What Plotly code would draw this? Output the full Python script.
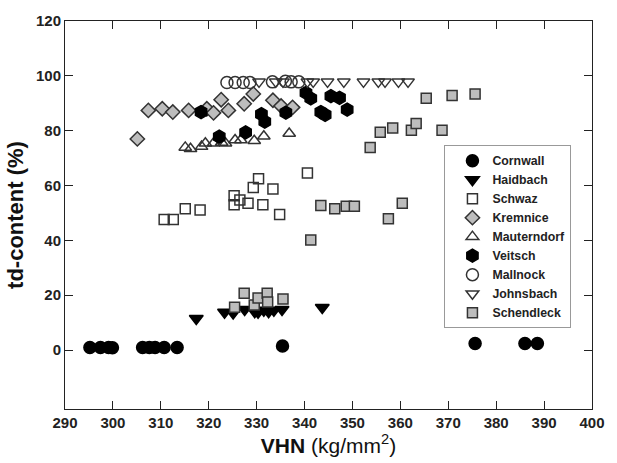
import plotly.graph_objects as go

cornwall_x = [295.2, 297.4, 299.1, 299.9, 306.2, 307.6, 308.8, 310.7, 313.4, 335.4, 375.6, 386.0, 388.6]
cornwall_y = [0.9, 0.9, 0.9, 0.8, 0.9, 0.9, 0.9, 0.9, 0.9, 1.5, 2.4, 2.4, 2.4]

haidbach_x = [317.4, 323.3, 325.1, 327.5, 329.6, 330.3, 331.5, 332.5, 333.6, 335.3, 343.7]
haidbach_y = [11.5, 13.8, 13.5, 14.8, 14.0, 13.8, 14.5, 14.0, 14.5, 14.8, 15.5]

schwaz_x = [310.7, 312.6, 315.1, 318.2, 325.3, 325.3, 326.5, 328.2, 329.3, 330.4, 331.3, 333.4, 334.8, 340.6]
schwaz_y = [47.6, 47.6, 51.5, 51.1, 56.3, 53.0, 54.7, 53.5, 59.3, 62.5, 53.0, 58.7, 49.4, 64.6]

kremnice_x = [305.1, 307.4, 310.3, 312.5, 315.8, 319.6, 321.0, 322.6, 324.1, 327.4, 329.3, 333.4, 335.1, 337.5]
kremnice_y = [77.0, 87.4, 88.0, 86.8, 87.4, 88.0, 86.5, 91.3, 87.4, 89.8, 93.4, 91.1, 89.0, 88.5]

mauterndorf_x = [315.1, 316.2, 318.5, 319.3, 321.0, 322.7, 323.5, 325.5, 326.7, 329.5, 331.5, 336.8]
mauterndorf_y = [73.9, 73.4, 74.2, 75.4, 75.4, 75.7, 75.4, 76.6, 76.6, 76.3, 78.0, 79.0]

veitsch_x = [318.4, 322.2, 327.7, 331.0, 331.7, 336.1, 340.3, 341.3, 343.4, 344.3, 345.5, 347.3, 348.9]
veitsch_y = [86.8, 77.8, 79.4, 86.0, 83.3, 86.6, 93.8, 91.8, 86.8, 85.8, 92.6, 92.0, 87.7]

mallnock_x = [323.8, 325.5, 327.2, 328.6, 333.3, 336.0, 337.2, 338.8]
mallnock_y = [97.6, 97.6, 97.6, 97.6, 97.8, 98.0, 97.8, 97.8]

johnsbach_x = [330.5, 334.0, 335.5, 340.6, 341.8, 344.8, 348.2, 352.3, 355.4, 356.8, 359.6, 361.6]
johnsbach_y = [97.8, 97.8, 97.8, 97.8, 97.8, 97.8, 97.8, 97.8, 97.8, 97.8, 97.8, 97.8]

schendleck_x = [325.4, 327.4, 329.5, 330.3, 332.2, 332.3, 335.5, 341.3, 343.4, 346.3, 348.7, 350.4,
                353.7, 355.8, 357.5, 358.4, 360.4, 362.3, 363.3, 365.4, 368.7, 370.8, 375.6]
schendleck_y = [15.6, 20.7, 16.4, 19.0, 20.7, 17.5, 18.6, 40.1, 52.7, 51.5, 52.4, 52.4,
                73.9, 79.4, 47.9, 81.0, 53.5, 80.2, 82.6, 91.8, 80.2, 92.8, 93.4]

x_ticks = [290, 300, 310, 320, 330, 340, 350, 360, 370, 380, 390, 400]
y_ticks = [0, 20, 40, 60, 80, 100, 120]

OUT = "#333333"
GREY = "#bdbdbd"

series = [
    ("Cornwall", cornwall_x, cornwall_y, "circle", 12, "black", "black"),
    ("Haidbach", haidbach_x, haidbach_y, "triangle-down", 12, "black", "black"),
    ("Schwaz", schwaz_x, schwaz_y, "square-open", 10, OUT, OUT),
    ("Kremnice", kremnice_x, kremnice_y, "diamond", 11, GREY, OUT),
    ("Mauterndorf", mauterndorf_x, mauterndorf_y, "triangle-up-open", 11, OUT, OUT),
    ("Veitsch", veitsch_x, veitsch_y, "hexagon", 13, "black", "black"),
    ("Mallnock", mallnock_x, mallnock_y, "circle-open", 12, OUT, OUT),
    ("Johnsbach", johnsbach_x, johnsbach_y, "triangle-down-open", 11, OUT, OUT),
    ("Schendleck", schendleck_x, schendleck_y, "square", 10, GREY, OUT),
]

fig = go.Figure()
for name, xs, ys, sym, size, fill, line in series:
    fig.add_trace(go.Scatter(
        x=xs, y=ys, mode="markers", name=name,
        marker=dict(symbol=sym, size=size, color=fill,
                    line=dict(color=line, width=1.5)),
    ))

axis_common = dict(
    showline=True, linecolor="#222222", linewidth=1, mirror="ticks",
    ticks="inside", ticklen=8, tickwidth=1, tickcolor="#222222",
    showgrid=False, zeroline=False,
    tickfont=dict(family="Liberation Sans", size=15, color="#222222", weight="bold"),
)

fig.update_xaxes(range=[290, 400], tickvals=x_ticks,
                 title=dict(text="<b>VHN</b> (kg/mm<sup>2</sup>)",
                            font=dict(family="Liberation Sans", size=21, color="#111111"),
                            standoff=5),
                 **axis_common)
fig.update_yaxes(range=[-21.5, 120], tickvals=y_ticks,
                 title=dict(text="<b>td-content (%)</b>",
                            font=dict(family="Liberation Sans", size=22, color="#111111"),
                            standoff=6),
                 **axis_common)

fig.update_layout(
    width=617, height=463,
    margin=dict(l=65, r=17, t=17, b=52),
    paper_bgcolor="white", plot_bgcolor="white",
    showlegend=True,
    legend=dict(x=0.72, y=0.68, xanchor="left", yanchor="top",
                bordercolor="#999999", borderwidth=1, bgcolor="white",
                font=dict(family="Liberation Sans", size=12.3, color="#222222", weight="bold"),
                tracegroupgap=0, indentation=7, entrywidth=129),
)

fig.write_html("out.html")
